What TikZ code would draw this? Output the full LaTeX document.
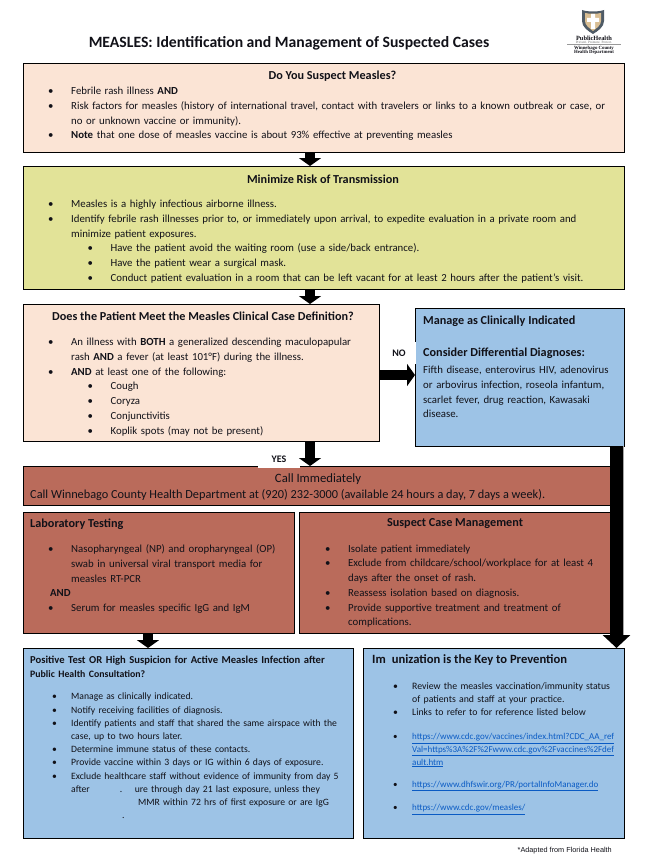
\documentclass[tikz,border=0pt]{standalone}
\usepackage{fontspec}
\setmainfont{Carlito}
\newfontfamily\logofont{Liberation Serif}
\newfontfamily\notefont{Liberation Sans}
\definecolor{mzInk}{HTML}{111118}
\definecolor{mzPeach}{HTML}{FBE4D5}
\definecolor{mzOlive}{HTML}{E2E398}
\definecolor{mzBlue}{HTML}{9DC3E6}
\definecolor{mzBrick}{HTML}{BA6B5B}
\definecolor{mzLink}{HTML}{0A5BC4}
\definecolor{mzShield}{HTML}{4F5B66}
\definecolor{mzTan}{HTML}{D9BE93}
\usetikzlibrary{arrows.meta,positioning,calc}
\newcommand{\itemA}[1]{\noindent\hangindent=23pt\hangafter=1\makebox[23pt][l]{\textbullet}#1\par}
\newcommand{\itemB}[1]{\noindent\hangindent=62.5pt\hangafter=1\hspace*{39.5pt}\makebox[23pt][l]{\textbullet}#1\par}
\newcommand{\itemC}[1]{\noindent\hangindent=19pt\hangafter=1\makebox[19pt][l]{\textbullet}#1\par}
\newcommand{\weblink}[1]{\textcolor{mzLink}{\underline{#1}}}

\begin{document}
\begin{tikzpicture}[
  x=1pt,y=-1pt,
  font=\fontsize{10.8}{14.75}\selectfont,
  text=mzInk,
  box/.style={draw=black,line width=0.9pt,anchor=north west,inner sep=0pt,outer sep=0pt},
  boxhead/.style={font=\fontsize{12.2}{14}\selectfont\bfseries,inner sep=0pt},
  bighead/.style={boxhead,anchor=west},
  boxbody/.style={anchor=north west,inner sep=0pt,text width=#1,align=left},
  blockarrow/.style={line width=10.5pt,draw=black,-{Triangle[width=22pt,length=8pt]}},
  whitetag/.style={fill=white,inner sep=0pt,font=\fontsize{10}{12}\selectfont\bfseries}
]
\useasboundingbox (0,0) rectangle (654,867);

\node[font=\fontsize{15.7}{18}\selectfont\bfseries,inner sep=0pt] (heading) at (289,43) {MEASLES: Identification and Management of Suspected Cases};

\fill[mzShield] (582,10) .. controls (588,12) and (598,12) .. (604,10) -- (604,21) .. controls (604,27) and (598,31) .. (593,34) .. controls (588,31) and (582,27) .. (582,21) -- cycle;
\fill[mzTan] (585,13) .. controls (589,14) and (597,14) .. (601,13) -- (601,21) .. controls (601,25) and (597,28) .. (593,31) .. controls (589,28) and (585,25) .. (585,21) -- cycle;
\fill[white] (591,14) -- (595,14) -- (595,18) -- (599,18) -- (599,22) -- (595,22) -- (595,29) -- (591,29) -- (591,22) -- (587,22) -- (587,18) -- (591,18) -- cycle;
\node[inner sep=0pt,font=\logofont\fontsize{6.4}{7}\selectfont\bfseries] (logoA) at (594,38) {PublicHealth};
\node[inner sep=0pt,font=\logofont\fontsize{3.4}{4}\selectfont,text=black!60] (logoB) at (594,42.6) {Prevent. Promote. Protect.};
\draw[black!40,line width=0.3pt] (567,44.6) -- (621,44.6);
\node[inner sep=0pt,font=\logofont\fontsize{4.8}{5}\selectfont\bfseries] (logoC) at (594,48) {Winnebago County};
\node[inner sep=0pt,font=\logofont\fontsize{4.8}{5}\selectfont\bfseries] (logoD) at (594,52.4) {Health Department};

\node[box,fill=mzPeach,minimum width=601pt,minimum height=89pt] (sus) at (23,63) {};
\node[box,fill=mzOlive,minimum width=601pt,minimum height=123pt] (mini) at (23,166) {};
\node[box,fill=mzPeach,minimum width=356pt,minimum height=137pt] (crit) at (23,304) {};
\node[box,fill=mzBlue,minimum width=209pt,minimum height=138pt] (mng) at (415,308) {};
\node[box,fill=mzBrick,minimum width=600pt,minimum height=39pt] (call) at (23,466) {};
\node[box,fill=mzBrick,minimum width=271pt,minimum height=121pt] (lab) at (23,512) {};
\node[box,fill=mzBrick,minimum width=320pt,minimum height=121pt] (susp) at (299,512) {};
\node[box,fill=mzBlue,minimum width=330pt,minimum height=190pt] (pos) at (23,648) {};
\node[box,fill=mzBlue,minimum width=261pt,minimum height=190pt] (imm) at (363,648) {};

\node[whitetag,minimum width=42pt,minimum height=18pt] (yes) at (279,459) {YES};
\node[whitetag,minimum width=34pt,minimum height=22pt] (no) at (399,353) {NO};

\coordinate (midA) at (310,0);
\coordinate (midB) at (148,0);
\coordinate (midC) at (616.5,0);
\coordinate (midD) at (0,375);
\coordinate (midE) at (623.6,0);
\draw[blockarrow] (sus.south -| midA) -- (mini.north -| midA);
\draw[blockarrow] (mini.south -| midA) -- (crit.north -| midA);
\draw[blockarrow] (crit.south -| midA) -- (call.north -| midA);
\draw[blockarrow] (crit.east |- midD) -- (mng.west |- midD);
\draw[blockarrow] (lab.south -| midB) -- (pos.north -| midB);
\draw[black!35,line width=1pt,shorten >=12pt] (mng.south -| midE) -- (imm.north -| midE);
\draw[blockarrow,line width=13pt,-{Triangle[width=27pt,length=13pt]}] (mng.south -| midC) -- (imm.north -| midC);

\node[boxhead] (susH) at (332.5,76) {Do You Suspect Measles?};
\node[boxbody=570pt] (susB) at (48,87) {
  \itemA{Febrile rash illness \textbf{AND}}
  \itemA{Risk factors for measles (history of international travel, contact with travelers or links to a known outbreak or case, or\newline no or unknown vaccine or immunity).}
  \itemA{\textbf{Note} that one dose of measles vaccine is about 93\% effective at preventing measles}};

\node[boxhead] (miniH) at (323,179) {Minimize Risk of Transmission};
\node[boxbody=570pt] (miniB) at (48,200) {
  \itemA{Measles is a highly infectious airborne illness.}
  \itemA{Identify febrile rash illnesses prior to, or immediately upon arrival, to expedite evaluation in a private room and\newline minimize patient exposures.}
  \itemB{Have the patient avoid the waiting room (use a side/back entrance).}
  \itemB{Have the patient wear a surgical mask.}
  \itemB{Conduct patient evaluation in a room that can be left vacant for at least 2 hours after the patient's visit.}};

\node[boxhead] (critH) at (203,316) {Does the Patient Meet the Measles Clinical Case Definition?};
\node[boxbody=325pt] (critB) at (48,338) {
  \itemA{An illness with \textbf{BOTH} a generalized descending maculopapular\newline rash \textbf{AND} a fever (at least 101°F) during the illness.}
  \itemA{\textbf{AND} at least one of the following:}
  \itemB{Cough}
  \itemB{Coryza}
  \itemB{Conjunctivitis}
  \itemB{Koplik spots (may not be present)}};

\node[bighead] (mngH) at (423,321) {Manage as Clinically Indicated};
\node[bighead] (mngS) at (423,353) {Consider Differential Diagnoses:};
\node[boxbody=198pt] (mngB) at (423,366) {Fifth disease, enterovirus HIV, adenovirus\newline or arbovirus infection, roseola infantum,\newline scarlet fever, drug reaction, Kawasaki\newline disease.};

\node[font=\fontsize{12.7}{15}\selectfont,inner sep=0pt] (callH) at (318,479) {Call Immediately};
\node[anchor=west,inner sep=0pt,font=\fontsize{12.3}{15}\selectfont] (callB) at (30,495.5) {Call Winnebago County Health Department at (920) 232-3000 (available 24 hours a day, 7 days a week).};

\node[boxhead,anchor=west] (labH) at (30,524) {Laboratory Testing};
\node[boxbody=240pt] (labB) at (48,544.5) {
  \itemA{Nasopharyngeal (NP) and oropharyngeal (OP)\newline swab in universal viral transport media for\newline measles RT-PCR}
  \noindent\hspace*{2pt}\textbf{AND}\par
  \itemA{Serum for measles specific IgG and IgM}};

\node[boxhead] (suspH) at (455,524) {Suspect Case Management};
\node[boxbody=285pt] (suspB) at (325,544.5) {
  \itemA{Isolate patient immediately}
  \itemA{Exclude from childcare/school/workplace for at least 4\newline days after the onset of rash.}
  \itemA{Reassess isolation based on diagnosis.}
  \itemA{Provide supportive treatment and treatment of\newline complications.}};

\node[boxbody=320pt,font=\fontsize{10.6}{14}\selectfont\bfseries] (posH) at (30,656) {Positive Test OR High Suspicion for Active Measles Infection after\newline{\fontsize{9.8}{14}\selectfont Public Health Consultation?}};
\node[boxbody=295pt,font=\fontsize{9.67}{13.2}\selectfont] (posB) at (52,693) {
  \itemC{Manage as clinically indicated.}
  \itemC{Notify receiving facilities of diagnosis.}
  \itemC{Identify patients and staff that shared the same airspace with the\newline case, up to two hours later.}
  \itemC{Determine immune status of these contacts.}
  \itemC{Provide vaccine within 3 days or IG within 6 days of exposure.}
  \itemC{Exclude healthcare staff without evidence of immunity from day 5\newline after\rlap{\hspace{30pt}.}\hspace{45pt}ure through day 21 last exposure, unless they\newline\hspace*{67pt}MMR within 72 hrs of first exposure or are IgG\newline\hspace*{51pt}.}};

\node[anchor=west,inner sep=0pt,font=\fontsize{12.6}{15}\selectfont\bfseries] (immH) at (372,660) {Im\hspace{6pt}unization is the Key to Prevention};
\node[boxbody=228pt,font=\fontsize{9.8}{13.2}\selectfont] (immB) at (393,682) {
  \itemC{Review the measles vaccination/immunity status\newline of patients and staff at your practice.}
  \itemC{Links to refer to for reference listed below}};
\node[boxbody=228pt,font=\fontsize{9}{12.6}\selectfont] (immL) at (393,733.5) {
  \itemC{\weblink{https://www.cdc.gov/vaccines/index.html?CDC\_AA\_ref}\newline\weblink{Val=https\%3A\%2F\%2Fwww.cdc.gov\%2Fvaccines\%2Fdef}\newline\weblink{ault.htm}}
  \vspace{9.5pt}
  \itemC{\weblink{https://www.dhfswir.org/PR/portalInfoManager.do}}
  \vspace{11pt}
  \itemC{\weblink{https://www.cdc.gov/measles/}}};

\node[inner sep=0pt,anchor=east,font=\notefont\fontsize{7.3}{9}\selectfont] (note) at (612,851) {*Adapted from Florida Health};
\end{tikzpicture}
\end{document}
